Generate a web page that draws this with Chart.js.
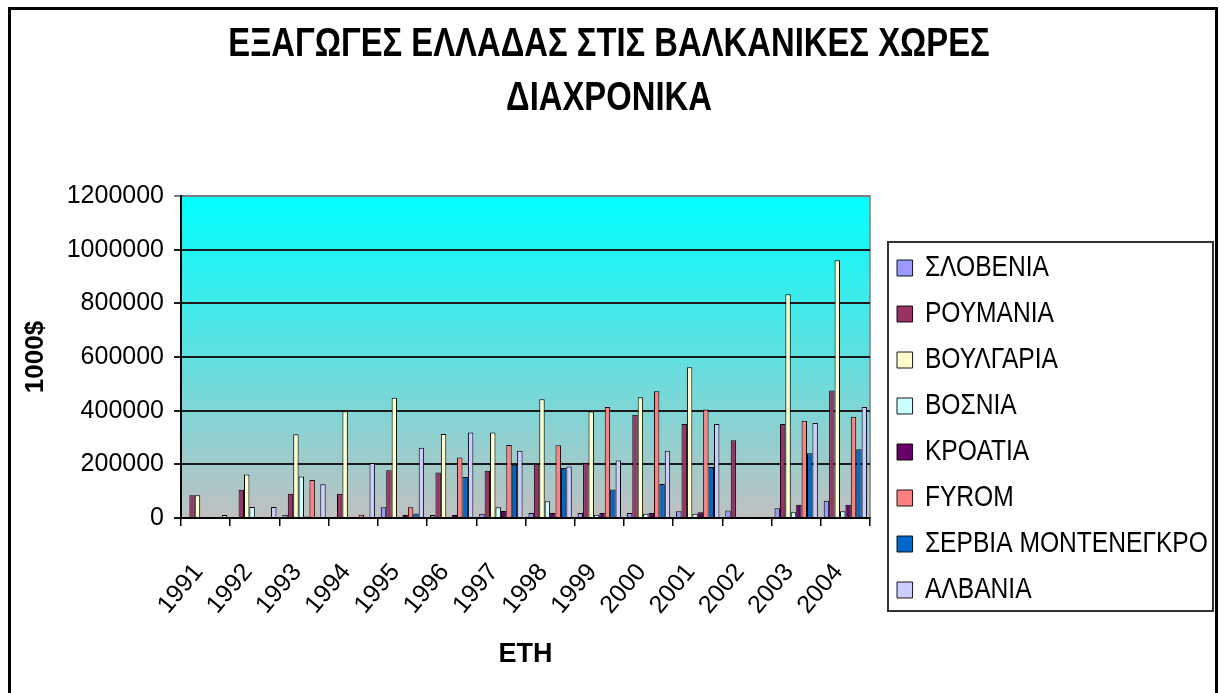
<!DOCTYPE html>
<html lang="el">
<head>
<meta charset="UTF-8">
<title>Εξαγωγές Ελλάδας στις Βαλκανικές χώρες</title>
<script src="https://cdn.jsdelivr.net/npm/chart.js@4.4.0/dist/chart.umd.min.js"></script>
<style>
  body { margin: 0; background: #fff; }
  #wrap { width: 1220px; height: 693px; }
</style>
</head>
<body>
<div id="wrap"><canvas id="myChart" width="1220" height="693"></canvas></div>
<script>
// exports in 1000$
const years = ['1991', '1992', '1993', '1994', '1995', '1996', '1997', '1998', '1999', '2000', '2001', '2002', '2003', '2004'];
const slovenia = [0, 0, 12000, 3000, 40000, 11000, 16000, 19000, 19000, 19000, 25000, 28000, 36000, 64000];
const romania = [85000, 105000, 90000, 90000, 178000, 170000, 176000, 200000, 206000, 385000, 350000, 290000, 350000, 475000];
const bulgaria = [85000, 162000, 312000, 398000, 448000, 313000, 319000, 443000, 397000, 450000, 562000, 0, 834000, 961000];
const bosnia = [0, 41000, 155000, 0, 0, 0, 40000, 62000, 12000, 16000, 16000, 0, 21000, 25000];
const croatia = [0, 0, 6000, 4000, 11000, 11000, 26000, 19000, 19000, 19000, 21000, 0, 49000, 49000];
const fyrom = [0, 0, 142000, 12000, 40000, 225000, 272000, 271000, 414000, 472000, 404000, 0, 362000, 377000];
const serbia = [0, 0, 0, 0, 17000, 153000, 198000, 186000, 106000, 127000, 190000, 0, 241000, 256000];
const albania = [11000, 41000, 126000, 205000, 262000, 319000, 251000, 192000, 214000, 251000, 350000, 0, 354000, 414000];

const yMax = 1200000;
const yStep = 200000;

const names = ['ΣΛΟΒΕΝΙΑ', 'ΡΟΥΜΑΝΙΑ', 'ΒΟΥΛΓΑΡΙΑ', 'ΒΟΣΝΙΑ', 'ΚΡΟΑΤΙΑ', 'FYROM', 'ΣΕΡΒΙΑ ΜΟΝΤΕΝΕΓΚΡΟ', 'ΑΛΒΑΝΙΑ'];
const series = [slovenia, romania, bulgaria, bosnia, croatia, fyrom, serbia, albania];
const colors = ['#9999ff', '#993366', '#ffffcc', '#ccffff', '#660066', '#ff8080', '#0066cc', '#ccccff'];

const plain = "'Liberation Sans', Arial, sans-serif";

// no narrow font installed, so squeeze the title and legend text sideways
function squeeze(box, k, originX) {
  const orig = box.draw.bind(box);
  box.draw = function (area) {
    const ctx = this.ctx;
    const ox = originX(this);
    ctx.save();
    ctx.translate(ox, 0);
    ctx.scale(k, 1);
    ctx.translate(-ox, 0);
    orig(area);
    ctx.restore();
  };
}

const extras = {
  id: 'extras',
  afterInit(chart) {
    squeeze(chart.titleBlock, 0.8, b => (b.left + b.right) / 2);
    squeeze(chart.legend, 0.82, b => b.left + b.options.labels.padding);
  },
  afterLayout(chart) {
    // move the legend into its frame and give the squeezed text room
    const lg = chart.legend;
    lg.left += 11;
    lg.right = lg.left + 440;
    lg.width = 440;
    lg.top = 237;
  },
  beforeDraw(chart) {
    const { ctx, chartArea: a } = chart;
    const g = ctx.createLinearGradient(0, a.top, 0, a.bottom);
    g.addColorStop(0, '#00ffff');
    g.addColorStop(1, '#c0c0c0');
    ctx.save();
    ctx.fillStyle = g;
    ctx.fillRect(a.left, a.top, a.right - a.left, a.bottom - a.top);
    ctx.strokeStyle = '#808080';
    ctx.lineWidth = 1.5;
    ctx.beginPath();
    ctx.moveTo(a.left, a.top);
    ctx.lineTo(a.right, a.top);
    ctx.lineTo(a.right, a.bottom);
    ctx.stroke();
    ctx.restore();
  },
  afterDraw(chart) {
    const ctx = chart.ctx;
    ctx.save();
    // legend frame
    ctx.strokeStyle = '#333';
    ctx.lineWidth = 2;
    ctx.strokeRect(888, 242, 325, 369);
    // outer frame
    ctx.strokeStyle = '#000';
    ctx.lineWidth = 3;
    ctx.strokeRect(9.5, 8.5, 1207, 700);
    ctx.restore();
  }
};

const data = {
  labels: years,
  datasets: names.map((n, i) => ({
    label: n,
    data: series[i],
    backgroundColor: colors[i],
    borderColor: '#000',
    borderWidth: 1,
    categoryPercentage: 0.88,
    barPercentage: 1.0
  }))
};

const config = {
  type: 'bar',
  data,
  options: {
    responsive: false,
    animation: false,
    layout: { padding: { left: 8, right: 10, top: 0, bottom: 0 } },
    plugins: {
      title: {
        display: true,
        text: ['ΕΞΑΓΩΓΕΣ ΕΛΛΑΔΑΣ ΣΤΙΣ ΒΑΛΚΑΝΙΚΕΣ ΧΩΡΕΣ', 'ΔΙΑΧΡΟΝΙΚΑ'],
        color: '#000',
        font: { family: plain, size: 41, weight: 'bold', lineHeight: 1.317 },
        padding: { top: 18, bottom: 70 }
      },
      legend: {
        position: 'right',
        align: 'start',
        maxWidth: 340,
        labels: {
          boxWidth: 19,
          boxHeight: 16,
          padding: 16,
          color: '#000',
          font: { family: plain, size: 30 }
        }
      },
      tooltip: { enabled: false }
    },
    scales: {
      x: {
        grid: { drawOnChartArea: false, drawTicks: true, tickLength: 8, color: '#000', lineWidth: 1.5 },
        border: { color: '#000', width: 2 },
        ticks: {
          color: '#000',
          font: { family: plain, size: 25 },
          minRotation: 50,
          maxRotation: 50,
          padding: 32,
          labelOffset: -7
        },
        title: {
          display: true,
          text: 'ΕΤΗ',
          color: '#000',
          font: { family: plain, size: 27, weight: 'bold', lineHeight: 1.2 },
          padding: { top: 0, bottom: 22 }
        },
        afterFit(scale) { scale.height = 175; }
      },
      y: {
        min: 0,
        max: yMax,
        grid: {
          color: c => (c.tick && c.tick.value === yMax ? '#808080' : '#1a1a1a'),
          lineWidth: 2,
          tickLength: 7
        },
        border: { color: '#000', width: 2 },
        ticks: {
          stepSize: yStep,
          color: '#000',
          padding: 10,
          font: { family: plain, size: 25 },
          callback: v => String(v)
        },
        title: {
          display: true,
          text: '1000$',
          color: '#000',
          font: { family: plain, size: 26, weight: 'bold', lineHeight: 1.2 },
          padding: { top: 12, bottom: 0 }
        },
        afterFit(scale) { scale.width = 173; }
      }
    }
  },
  plugins: [extras]
};

new Chart(document.getElementById('myChart'), config);
</script>
</body>
</html>
